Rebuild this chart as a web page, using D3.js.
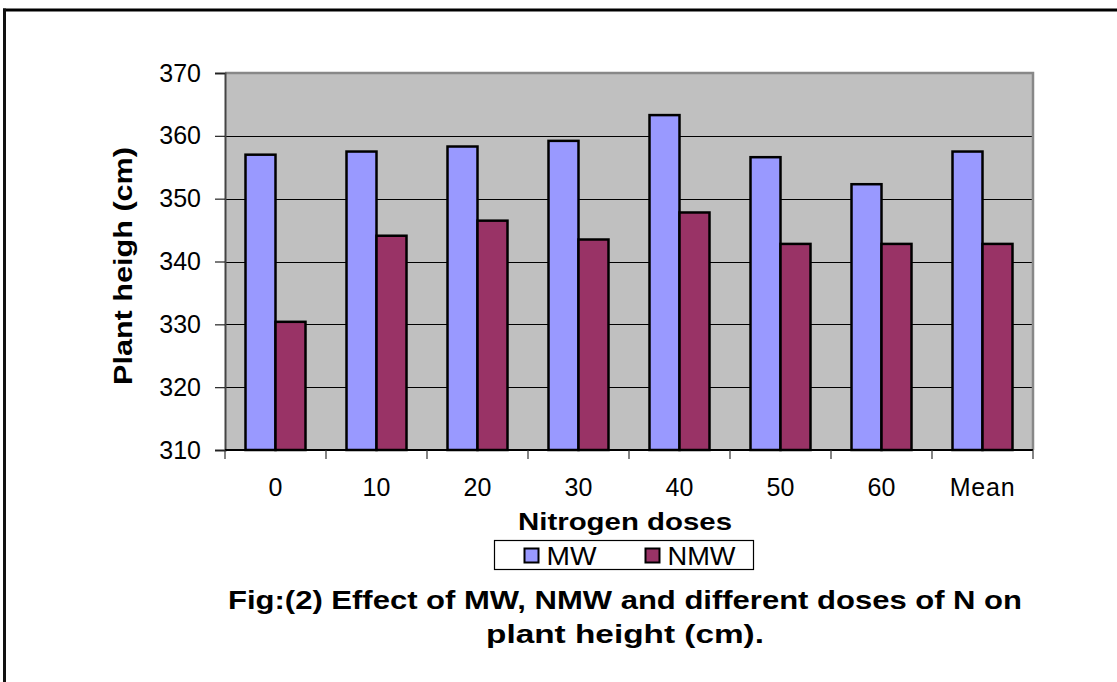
<!DOCTYPE html>
<html>
<head>
<meta charset="utf-8">
<script src="https://cdn.jsdelivr.net/npm/d3@7"></script>
<style>
    body { margin: 0; background: #fff; }
    text { font-family: "Liberation Sans", Arial, sans-serif; }
</style>
</head>
<body>
<div id="wrapper"></div>
<script>
const categories = ['0', '10', '20', '30', '40', '50', '60', 'Mean']
const seriesNames = ['MW', 'NMW']
const mwValues = [357.0, 357.5, 358.3, 359.2, 363.3, 356.6, 352.3, 357.5]
const nmwValues = [330.4, 344.1, 346.5, 343.5, 347.8, 342.8, 342.8, 342.8]
const yTicks = [310, 320, 330, 340, 350, 360, 370]
const colors = ['#9999FF', '#993366']

const data = categories.map((c, i) => ({ cat: c, values: [mwValues[i], nmwValues[i]] }))

let dimensions = {
    width: 1117,
    height: 682,
    margin: { top: 73, right: 84, bottom: 232, left: 225 }
}
dimensions.boundedWidth = dimensions.width - dimensions.margin.left - dimensions.margin.right
dimensions.boundedHeight = dimensions.height - dimensions.margin.top - dimensions.margin.bottom

const svg = d3.select('#wrapper').append('svg')
    .attr('width', dimensions.width)
    .attr('height', dimensions.height)

// outer frame (only top and left edges show)
svg.append('line').attr('x1', 3).attr('x2', dimensions.width).attr('y1', 10).attr('y2', 10)
    .attr('stroke', '#000').attr('stroke-width', 3)
svg.append('line').attr('x1', 4.5).attr('x2', 4.5).attr('y1', 8.5).attr('y2', dimensions.height)
    .attr('stroke', '#111').attr('stroke-width', 3)

const bounds = svg.append('g')
    .attr('transform', `translate(${dimensions.margin.left}, ${dimensions.margin.top})`)

const xScale = d3.scaleBand()
    .domain(categories)
    .range([0, dimensions.boundedWidth])
    .paddingInner(0.406)
    .paddingOuter(0.203)

const xSub = d3.scaleBand()
    .domain(seriesNames)
    .range([0, xScale.bandwidth()])

const yScale = d3.scaleLinear()
    .domain([310, 370])
    .range([dimensions.boundedHeight, 0])

// plot background
bounds.append('rect')
    .attr('width', dimensions.boundedWidth)
    .attr('height', dimensions.boundedHeight)
    .attr('fill', '#C0C0C0')

// gridlines
bounds.append('g')
    .selectAll('line')
    .data(yTicks.slice(1, -1))
    .enter()
    .append('line')
    .attr('x1', 0)
    .attr('x2', dimensions.boundedWidth)
    .attr('y1', d => Math.round(yScale(d)) + 0.5)
    .attr('y2', d => Math.round(yScale(d)) + 0.5)
    .attr('stroke', '#000')
    .attr('stroke-width', 1)

// top and right border of plot area
bounds.append('path')
    .attr('d', `M0,0H${dimensions.boundedWidth}V${dimensions.boundedHeight}`)
    .attr('fill', 'none')
    .attr('stroke', '#888')
    .attr('stroke-width', 2.5)

// bars
bounds.selectAll('g.group')
    .data(data)
    .enter()
    .append('g')
    .attr('class', 'group')
    .attr('transform', d => `translate(${xScale(d.cat)}, 0)`)
    .selectAll('rect')
    .data(d => d.values.map((v, i) => ({ key: seriesNames[i], v, i })))
    .enter()
    .append('rect')
    .attr('x', d => xSub(d.key))
    .attr('width', xSub.bandwidth())
    .attr('y', d => yScale(d.v))
    .attr('height', d => yScale(310) - yScale(d.v))
    .attr('fill', d => colors[d.i])
    .attr('stroke', '#000')
    .attr('stroke-width', 2.5)

// y axis
const yAxis = d3.axisLeft(yScale).tickValues(yTicks).tickSize(10).tickPadding(14)
const yG = bounds.append('g').call(yAxis)
yG.select('.domain').attr('stroke', '#444').attr('stroke-width', 2)
yG.selectAll('.tick line').attr('stroke', '#222').attr('stroke-width', 1.2)
yG.selectAll('.tick text')
    .attr('font-size', 25)
    .attr('fill', '#000')
    .attr('font-family', '"Liberation Sans", Arial, sans-serif')

// x axis: ticks at category boundaries
const xG = bounds.append('g').attr('transform', `translate(0, ${dimensions.boundedHeight})`)
xG.append('line')
    .attr('x1', 0).attr('x2', dimensions.boundedWidth)
    .attr('stroke', '#000').attr('stroke-width', 2)
const step = xScale.step()
const boundaries = d3.range(categories.length + 1).map(i => i * step)
xG.selectAll('line.tk')
    .data(boundaries)
    .enter()
    .append('line')
    .attr('class', 'tk')
    .attr('x1', d => d).attr('x2', d => d)
    .attr('y1', 0).attr('y2', 9)
    .attr('stroke', '#333').attr('stroke-width', 1.2)
xG.selectAll('text')
    .data(categories)
    .enter()
    .append('text')
    .attr('x', d => xScale(d) + xScale.bandwidth() / 2)
    .attr('y', 46)
    .attr('text-anchor', 'middle')
    .attr('font-size', 25)
    .attr('letter-spacing', d => d === 'Mean' ? 0.8 : 0)
    .text(d => d)

// axis titles
svg.append('text')
    .attr('x', 625)
    .attr('y', 530)
    .attr('text-anchor', 'middle')
    .attr('font-size', 24)
    .attr('font-weight', 'bold')
    .attr('textLength', 214)
    .attr('lengthAdjust', 'spacingAndGlyphs')
    .text('Nitrogen doses')

svg.append('text')
    .attr('transform', 'translate(132, 266) rotate(-90)')
    .attr('text-anchor', 'middle')
    .attr('font-size', 25)
    .attr('font-weight', 'bold')
    .attr('textLength', 238)
    .attr('lengthAdjust', 'spacingAndGlyphs')
    .text('Plant heigh (cm)')

// legend
const legend = svg.append('g').attr('transform', 'translate(494.5, 540.5)')
legend.append('rect')
    .attr('width', 259).attr('height', 29)
    .attr('fill', '#fff').attr('stroke', '#000').attr('stroke-width', 1.2)
const legendX = [30, 151]
const legendLen = [50, 68]
seriesNames.forEach((name, i) => {
    legend.append('rect')
        .attr('x', legendX[i]).attr('y', 8)
        .attr('width', 14).attr('height', 14)
        .attr('fill', colors[i]).attr('stroke', '#000').attr('stroke-width', 2)
    legend.append('text')
        .attr('x', legendX[i] + 22).attr('y', 24)
        .attr('font-size', 25)
        .attr('textLength', legendLen[i])
        .attr('lengthAdjust', 'spacingAndGlyphs')
        .text(name)
})

// caption
const caption = ['Fig:(2) Effect of MW, NMW and different doses of N on', 'plant height (cm).']
const captionLen = [794, 278]
svg.selectAll('text.caption')
    .data(caption)
    .enter()
    .append('text')
    .attr('class', 'caption')
    .attr('x', 625)
    .attr('y', (d, i) => 609 + i * 34)
    .attr('text-anchor', 'middle')
    .attr('font-size', 25)
    .attr('font-weight', 'bold')
    .attr('textLength', (d, i) => captionLen[i])
    .attr('lengthAdjust', 'spacingAndGlyphs')
    .text(d => d)
</script>
</body>
</html>
